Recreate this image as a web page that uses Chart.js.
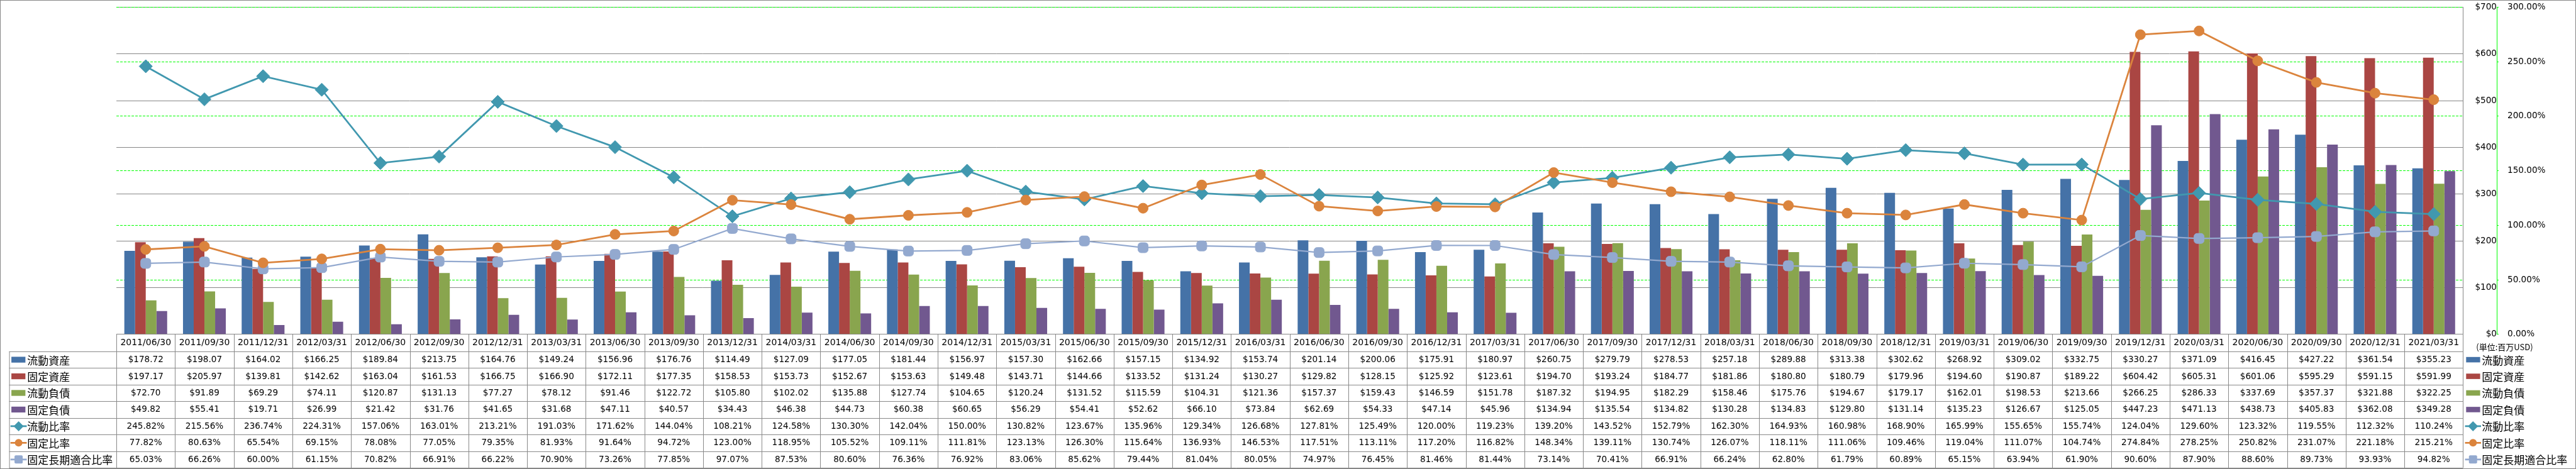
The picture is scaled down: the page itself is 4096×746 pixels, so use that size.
<!DOCTYPE html>
<html>
<head>
<meta charset="utf-8">
<script src="https://cdn.jsdelivr.net/npm/chart.js@4.4.1/dist/chart.umd.min.js"></script>
<style>
  html, body { margin: 0; padding: 0; background: #fff; }
  #wrap { width: 4096px; height: 746px; }
</style>
</head>
<body>
<div id="wrap"><canvas id="chartBalance" width="4096" height="746"></canvas></div>
<script>
// periods (x axis / table header)
const periods = [
    "2011/06/30", "2011/09/30", "2011/12/31", "2012/03/31", "2012/06/30", "2012/09/30", "2012/12/31", "2013/03/31",
    "2013/06/30", "2013/09/30", "2013/12/31", "2014/03/31", "2014/06/30", "2014/09/30", "2014/12/31", "2015/03/31",
    "2015/06/30", "2015/09/30", "2015/12/31", "2016/03/31", "2016/06/30", "2016/09/30", "2016/12/31", "2017/03/31",
    "2017/06/30", "2017/09/30", "2017/12/31", "2018/03/31", "2018/06/30", "2018/09/30", "2018/12/31", "2019/03/31",
    "2019/06/30", "2019/09/30", "2019/12/31", "2020/03/31", "2020/06/30", "2020/09/30", "2020/12/31", "2021/03/31",
];

// 百万USD
const currentAssets = [
    178.72, 198.07, 164.02, 166.25, 189.84, 213.75, 164.76, 149.24, 156.96, 176.76,
    114.49, 127.09, 177.05, 181.44, 156.97, 157.30, 162.66, 157.15, 134.92, 153.74,
    201.14, 200.06, 175.91, 180.97, 260.75, 279.79, 278.53, 257.18, 289.88, 313.38,
    302.62, 268.92, 309.02, 332.75, 330.27, 371.09, 416.45, 427.22, 361.54, 355.23,
];
const fixedAssets = [
    197.17, 205.97, 139.81, 142.62, 163.04, 161.53, 166.75, 166.90, 172.11, 177.35,
    158.53, 153.73, 152.67, 153.63, 149.48, 143.71, 144.66, 133.52, 131.24, 130.27,
    129.82, 128.15, 125.92, 123.61, 194.70, 193.24, 184.77, 181.86, 180.80, 180.79,
    179.96, 194.60, 190.87, 189.22, 604.42, 605.31, 601.06, 595.29, 591.15, 591.99,
];
const currentLiabilities = [
    72.70, 91.89, 69.29, 74.11, 120.87, 131.13, 77.27, 78.12, 91.46, 122.72,
    105.80, 102.02, 135.88, 127.74, 104.65, 120.24, 131.52, 115.59, 104.31, 121.36,
    157.37, 159.43, 146.59, 151.78, 187.32, 194.95, 182.29, 158.46, 175.76, 194.67,
    179.17, 162.01, 198.53, 213.66, 266.25, 286.33, 337.69, 357.37, 321.88, 322.25,
];
const fixedLiabilities = [
    49.82, 55.41, 19.71, 26.99, 21.42, 31.76, 41.65, 31.68, 47.11, 40.57,
    34.43, 46.38, 44.73, 60.38, 60.65, 56.29, 54.41, 52.62, 66.10, 73.84,
    62.69, 54.33, 47.14, 45.96, 134.94, 135.54, 134.82, 130.28, 134.83, 129.80,
    131.14, 135.23, 126.67, 125.05, 447.23, 471.13, 438.73, 405.83, 362.08, 349.28,
];

// %
const currentRatio = [
    245.82, 215.56, 236.74, 224.31, 157.06, 163.01, 213.21, 191.03, 171.62, 144.04,
    108.21, 124.58, 130.30, 142.04, 150.00, 130.82, 123.67, 135.96, 129.34, 126.68,
    127.81, 125.49, 120.00, 119.23, 139.20, 143.52, 152.79, 162.30, 164.93, 160.98,
    168.90, 165.99, 155.65, 155.74, 124.04, 129.60, 123.32, 119.55, 112.32, 110.24,
];
const fixedRatio = [
    77.82, 80.63, 65.54, 69.15, 78.08, 77.05, 79.35, 81.93, 91.64, 94.72,
    123.00, 118.95, 105.52, 109.11, 111.81, 123.13, 126.30, 115.64, 136.93, 146.53,
    117.51, 113.11, 117.20, 116.82, 148.34, 139.11, 130.74, 126.07, 118.11, 111.06,
    109.46, 119.04, 111.07, 104.74, 274.84, 278.25, 250.82, 231.07, 221.18, 215.21,
];
const fixedLongTermRatio = [
    65.03, 66.26, 60.00, 61.15, 70.82, 66.91, 66.22, 70.90, 73.26, 77.85,
    97.07, 87.53, 80.60, 76.36, 76.92, 83.06, 85.62, 79.44, 81.04, 80.05,
    74.97, 76.45, 81.46, 81.44, 73.14, 70.41, 66.91, 66.24, 62.80, 61.79,
    60.89, 65.15, 63.94, 61.90, 90.60, 87.90, 88.60, 89.73, 93.93, 94.82,
];

const seriesNames = ["流動資産", "固定資産", "流動負債", "固定負債", "流動比率", "固定比率", "固定長期適合比率"];
const unitLabel = "(単位:百万USD)";

const NUM_FONT = "DejaVu Sans";
const JP_FONT = "'Noto Sans CJK JP'";

const colors = {
    blue: "#4572A7",
    red: "#AA4643",
    green: "#89A54E",
    purple: "#71588F",
    teal: "#4198AF",
    orange: "#DB843D",
    lightBlue: "#93A9CF",
};

// rows of the data table, same order as the legend
const tableRows = [
    { name: seriesNames[0], values: currentAssets, kind: "bar", color: colors.blue },
    { name: seriesNames[1], values: fixedAssets, kind: "bar", color: colors.red },
    { name: seriesNames[2], values: currentLiabilities, kind: "bar", color: colors.green },
    { name: seriesNames[3], values: fixedLiabilities, kind: "bar", color: colors.purple },
    { name: seriesNames[4], values: currentRatio, kind: "line", color: colors.teal, marker: "diamond" },
    { name: seriesNames[5], values: fixedRatio, kind: "line", color: colors.orange, marker: "circle" },
    { name: seriesNames[6], values: fixedLongTermRatio, kind: "line", color: colors.lightBlue, marker: "square" },
];

function formatValue(row, v) {
    return row.kind === "bar" ? "$" + v.toFixed(2) : v.toFixed(2) + "%";
}

function drawMarker(ctx, marker, cx, cy, color) {
    ctx.fillStyle = color;
    ctx.beginPath();
    if (marker === "diamond") {
        const r = 8;
        ctx.moveTo(cx - r, cy);
        ctx.lineTo(cx, cy - r);
        ctx.lineTo(cx + r, cy);
        ctx.lineTo(cx, cy + r);
        ctx.closePath();
    } else if (marker === "circle") {
        ctx.arc(cx, cy, 6, 0, Math.PI * 2);
    } else {
        const s = 6.5;
        ctx.roundRect(cx - s, cy - s, s * 2, s * 2, 2);
    }
    ctx.fill();
}

function drawKey(ctx, row, x1, x2, cy, barH) {
    if (row.kind === "bar") {
        ctx.fillStyle = row.color;
        ctx.fillRect(x1, cy - barH / 2, x2 - x1, barH);
        return;
    }
    ctx.strokeStyle = row.color;
    ctx.lineWidth = 2.8;
    ctx.beginPath();
    ctx.moveTo(x1, cy);
    ctx.lineTo(x2, cy);
    ctx.stroke();
    drawMarker(ctx, row.marker, (x1 + x2) / 2, cy, row.color);
}

// data table under the plot + legend on the right
const dataTablePlugin = {
    id: "dataTable",
    afterDraw(chart) {
        const ctx = chart.ctx;
        const xScale = chart.scales.x;
        const area = chart.chartArea;
        const n = periods.length;
        const colW = (area.right - area.left) / n;
        const headerTop = area.bottom;
        const headerBottom = 558.9;
        const tableBottom = 744;
        const rowH = (tableBottom - headerBottom) / tableRows.length;
        const labelLeft = 14.6;

        ctx.save();
        // keep the table below the plot
        ctx.beginPath();
        ctx.rect(0, headerTop - 1, chart.width, chart.height - headerTop + 1);
        ctx.clip();

        ctx.strokeStyle = "#898989";
        ctx.lineWidth = 1;
        ctx.setLineDash([]);

        // vertical lines between columns
        ctx.beginPath();
        for (let i = 0; i <= n; i++) {
            const xx = Math.round(area.left + i * colW) + 0.5;
            ctx.moveTo(xx, headerTop);
            ctx.lineTo(xx, tableBottom);
        }
        ctx.moveTo(labelLeft + 0.5, headerBottom);
        ctx.lineTo(labelLeft + 0.5, tableBottom);
        // horizontal lines
        for (let r = 0; r <= tableRows.length; r++) {
            const yy = Math.round(headerBottom + r * rowH) + 0.5;
            ctx.moveTo(labelLeft, yy);
            ctx.lineTo(area.right, yy);
        }
        ctx.stroke();

        // values
        ctx.fillStyle = "#000";
        ctx.textAlign = "center";
        ctx.textBaseline = "middle";
        ctx.font = "13.6px " + NUM_FONT;
        tableRows.forEach((row, r) => {
            const cy = headerBottom + (r + 0.5) * rowH;
            row.values.forEach((v, i) => {
                ctx.fillText(formatValue(row, v), xScale.getPixelForValue(i), cy + 0.5);
            });
        });

        // legend keys in the table and on the right
        ctx.textAlign = "left";
        ctx.font = "17px " + JP_FONT;
        tableRows.forEach((row, r) => {
            const cy = headerBottom + (r + 0.5) * rowH;
            if (row.kind === "bar") {
                drawKey(ctx, row, 18.1, 40.4, cy, 9.3);
                drawKey(ctx, row, 3921.3, 3943.6, cy, 8.6);
            } else {
                drawKey(ctx, row, 16.7, 42.5, cy, 0);
                drawKey(ctx, row, 3919.5, 3945, cy, 0);
            }
            ctx.fillStyle = "#000";
            ctx.fillText(row.name, 43.2, cy + 1);
            ctx.fillText(row.name, 3946.3, cy + 1);
        });

        ctx.textAlign = "center";
        ctx.font = "13px " + JP_FONT;
        ctx.fillText(unitLabel, 3982.5, 552);
        ctx.restore();

        // outer frame
        ctx.save();
        ctx.strokeStyle = "#868686";
        ctx.lineWidth = 1;
        ctx.strokeRect(0.5, 0.5, chart.width - 1, chart.height - 1);
        ctx.restore();
    },
};

// right-hand axes: fixed width, no extra room for the end labels
function fixAxisWidth(width) {
    return (scale) => {
        scale.width = width;
        scale.paddingTop = 0;
        scale.paddingBottom = 0;
    };
}

const ctxB = document.getElementById("chartBalance");

new Chart(ctxB, {
    type: "bar",
    data: {
        labels: periods,
        datasets: [
            {
                label: seriesNames[0],
                data: currentAssets,
                backgroundColor: colors.blue,
                yAxisID: "y",
                order: 2,
            },
            {
                label: seriesNames[1],
                data: fixedAssets,
                backgroundColor: colors.red,
                yAxisID: "y",
                order: 2,
            },
            {
                label: seriesNames[2],
                data: currentLiabilities,
                backgroundColor: colors.green,
                yAxisID: "y",
                order: 2,
            },
            {
                label: seriesNames[3],
                data: fixedLiabilities,
                backgroundColor: colors.purple,
                yAxisID: "y",
                order: 2,
            },
            {
                type: "line",
                label: seriesNames[4],
                data: currentRatio,
                borderColor: colors.teal,
                backgroundColor: colors.teal,
                borderWidth: 2.8,
                pointStyle: "rectRot",
                pointRadius: 10.5,
                pointBorderWidth: 1,
                yAxisID: "y1",
                order: 1,
            },
            {
                type: "line",
                label: seriesNames[5],
                data: fixedRatio,
                borderColor: colors.orange,
                backgroundColor: colors.orange,
                borderWidth: 2.8,
                pointStyle: "circle",
                pointRadius: 8,
                pointBorderWidth: 1,
                yAxisID: "y1",
                order: 0,
            },
            {
                type: "line",
                label: seriesNames[6],
                data: fixedLongTermRatio,
                borderColor: colors.lightBlue,
                backgroundColor: colors.lightBlue,
                borderWidth: 2.2,
                pointStyle: "rectRounded",
                pointRadius: 9.3,
                pointBorderWidth: 1,
                yAxisID: "y1",
                order: 1,
            },
        ],
    },
    options: {
        responsive: false,
        animation: false,
        devicePixelRatio: 1,
        categoryPercentage: 0.73,
        barPercentage: 1.0,
        layout: {
            padding: { top: 10.4, left: 185.1, right: 0, bottom: 0 },
        },
        plugins: {
            legend: { display: false },
            tooltip: { enabled: false },
        },
        scales: {
            x: {
                grid: { display: false, drawOnChartArea: false, drawTicks: false },
                border: { display: false },
                ticks: {
                    autoSkip: false,
                    maxRotation: 0,
                    padding: 5,
                    color: "#000",
                    font: { family: NUM_FONT, size: 14 },
                },
                afterFit: (scale) => {
                    scale.height = 746 - 531.7;
                },
            },
            y: {
                position: "right",
                min: 0,
                max: 700,
                ticks: {
                    stepSize: 100,
                    crossAlign: "far",
                    padding: 17.6,
                    color: "#000",
                    font: { family: NUM_FONT, size: 13.6 },
                    callback: (v) => "$" + v,
                },
                grid: { color: "#868686", lineWidth: 1, drawTicks: false },
                border: { display: true, color: "#868686", width: 1 },
                afterFit: fixAxisWidth(53.6),
            },
            y1: {
                position: "right",
                min: 0,
                max: 300,
                ticks: {
                    stepSize: 50,
                    padding: 14,
                    color: "#000",
                    font: { family: NUM_FONT, size: 13.6 },
                    callback: (v) => v.toFixed(2) + "%",
                },
                grid: {
                    color: (c) => (c.tick && c.tick.value === 0 ? "rgba(0,0,0,0)" : "#00FF00"),
                    lineWidth: 1,
                    tickLength: 3,
                    tickColor: "#00FF00",
                },
                border: { display: true, color: "#00FF00", width: 1, dash: [4, 2] },
                afterFit: fixAxisWidth(126),
            },
        },
    },
    plugins: [dataTablePlugin],
});
</script>
</body>
</html>
